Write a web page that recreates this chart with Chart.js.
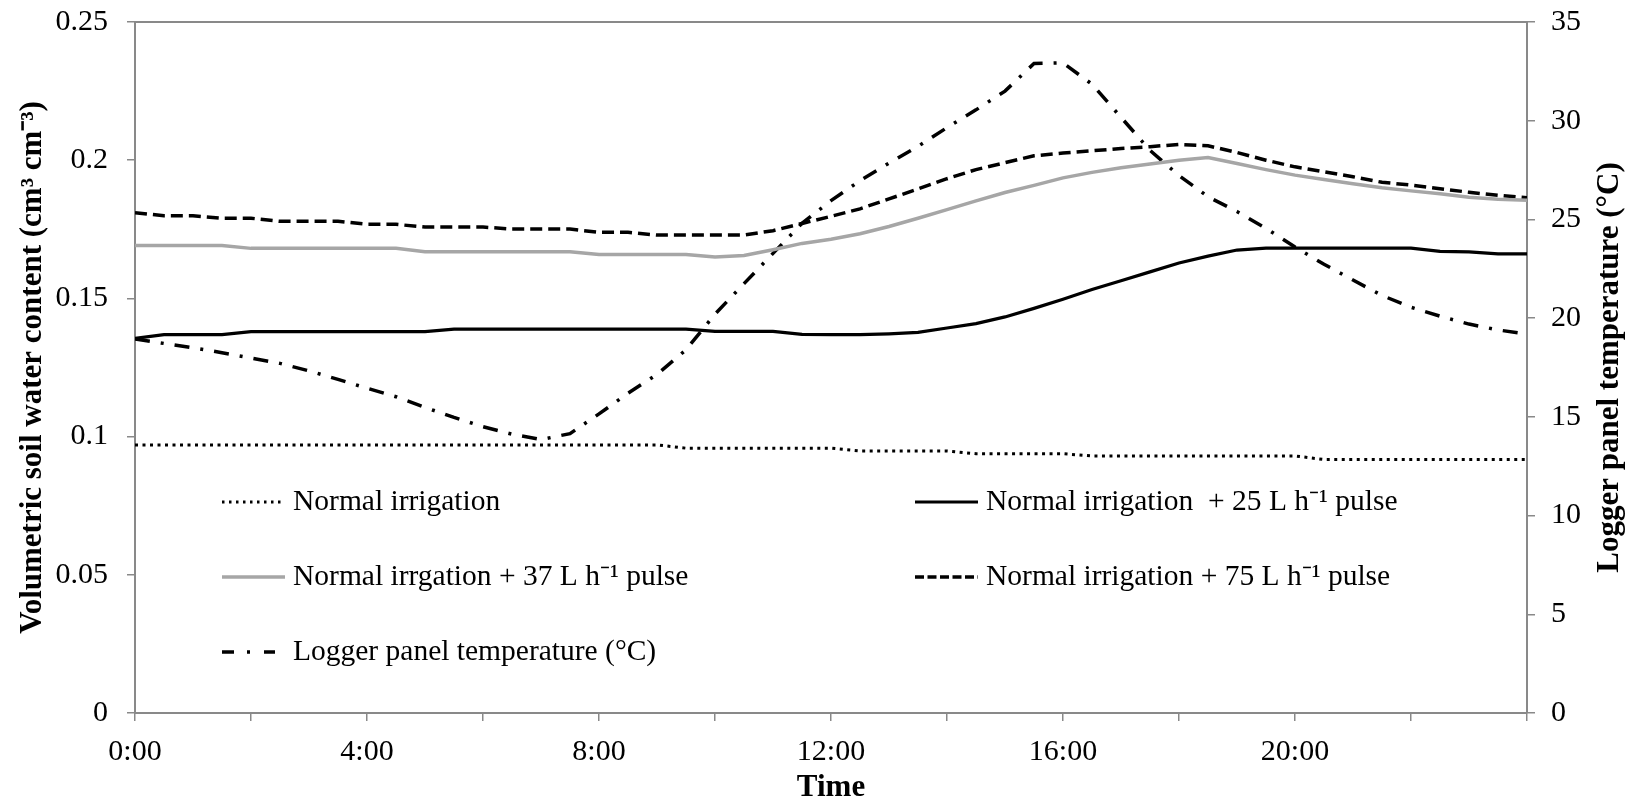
<!DOCTYPE html>
<html>
<head>
<meta charset="utf-8">
<title>Soil water content and logger panel temperature</title>
<script src="https://cdn.jsdelivr.net/npm/chart.js"></script>
<style>
  html, body { margin: 0; padding: 0; background: #ffffff; }
  canvas { display: block; }
</style>
</head>
<body>
<canvas id="chart" width="1635" height="806"></canvas>
<script>
// Sampling times (hours after midnight), half-hourly over one day
const hours = [
  0, 0.5, 1, 1.5, 2, 2.5, 3, 3.5, 4, 4.5, 5, 5.5, 6, 6.5, 7, 7.5, 8, 8.5, 9, 9.5,
  10, 10.5, 11, 11.5, 12, 12.5, 13, 13.5, 14, 14.5, 15, 15.5, 16, 16.5, 17, 17.5,
  18, 18.5, 19, 19.5, 20, 20.5, 21, 21.5, 22, 22.5, 23, 23.5, 24
];

// Volumetric soil water content (cm3 cm-3)
const normalIrrigation = [
  0.0970, 0.0970, 0.0970, 0.0970, 0.0970, 0.0970, 0.0970, 0.0970, 0.0970, 0.0970,
  0.0970, 0.0970, 0.0970, 0.0970, 0.0970, 0.0970, 0.0970, 0.0970, 0.0970, 0.0958,
  0.0958, 0.0958, 0.0958, 0.0958, 0.0958, 0.0948, 0.0948, 0.0948, 0.0948, 0.0938,
  0.0938, 0.0938, 0.0938, 0.0930, 0.0930, 0.0930, 0.0930, 0.0930, 0.0930, 0.0930,
  0.0930, 0.0917, 0.0917, 0.0917, 0.0917, 0.0917, 0.0917, 0.0917, 0.0917
];
const pulse25 = [
  0.1355, 0.1369, 0.1369, 0.1369, 0.1380, 0.1380, 0.1380, 0.1380, 0.1380, 0.1380,
  0.1380, 0.1389, 0.1389, 0.1389, 0.1389, 0.1389, 0.1389, 0.1389, 0.1389, 0.1389,
  0.1381, 0.1381, 0.1381, 0.1370, 0.1369, 0.1369, 0.1372, 0.1377, 0.1393, 0.1409,
  0.1433, 0.1464, 0.1497, 0.1532, 0.1564, 0.1596, 0.1628, 0.1653, 0.1675, 0.1682,
  0.1682, 0.1682, 0.1682, 0.1682, 0.1682, 0.1670, 0.1668, 0.1661, 0.1661
];
const pulse37 = [
  0.1691, 0.1691, 0.1691, 0.1691, 0.1681, 0.1681, 0.1681, 0.1681, 0.1681, 0.1681,
  0.1669, 0.1669, 0.1669, 0.1669, 0.1669, 0.1669, 0.1659, 0.1659, 0.1659, 0.1659,
  0.1650, 0.1655, 0.1676, 0.1699, 0.1714, 0.1734, 0.1760, 0.1790, 0.1821, 0.1853,
  0.1883, 0.1909, 0.1936, 0.1956, 0.1973, 0.1986, 0.2000, 0.2010, 0.1988, 0.1966,
  0.1946, 0.1930, 0.1915, 0.1900, 0.1889, 0.1879, 0.1866, 0.1859, 0.1855
];
const pulse75 = [
  0.1810, 0.1799, 0.1799, 0.1790, 0.1790, 0.1779, 0.1779, 0.1779, 0.1768, 0.1768,
  0.1758, 0.1758, 0.1758, 0.1751, 0.1751, 0.1751, 0.1739, 0.1739, 0.1729, 0.1729,
  0.1729, 0.1729, 0.1745, 0.1771, 0.1797, 0.1824, 0.1860, 0.1896, 0.1933, 0.1966,
  0.1991, 0.2016, 0.2026, 0.2034, 0.2042, 0.2049, 0.2057, 0.2052, 0.2028, 0.2000,
  0.1976, 0.1958, 0.1940, 0.1920, 0.1910, 0.1897, 0.1884, 0.1873, 0.1864
];

// Logger panel temperature (°C)
const panelTemperature = [
  18.94, 18.72, 18.50, 18.25, 17.98, 17.71, 17.33, 16.90, 16.45, 16.02,
  15.48, 14.97, 14.50, 14.12, 13.85, 14.15, 15.15, 16.20, 17.15, 18.40,
  20.20, 21.75, 23.28, 24.80, 25.95, 26.96, 27.85, 28.70, 29.65, 30.55,
  31.50, 32.90, 32.93, 31.85, 30.17, 28.50, 27.22, 26.15, 25.40, 24.55,
  23.60, 22.73, 21.93, 21.15, 20.55, 20.10, 19.70, 19.40, 19.20
];

// Axis tick labels (x ticks every 2 h, labels every 4 h)
const timeTickLabels = ['0:00', '', '4:00', '', '8:00', '', '12:00', '', '16:00', '', '20:00', '', ''];
const soilTickLabels = ['0', '0.05', '0.1', '0.15', '0.2', '0.25'];
const tempTickLabels = ['0', '5', '10', '15', '20', '25', '30', '35'];

const seriesLabels = [
  'Normal irrigation',
  'Normal irrigation  + 25 L h\u207B\u00B9 pulse',
  'Normal irrgation + 37 L h\u207B\u00B9 pulse',
  'Normal irrigation + 75 L h\u207B\u00B9 pulse',
  'Logger panel temperature (\u00B0C)'
];
const soilAxisTitle = 'Volumetric soil water content (cm\u00B3 cm\u207B\u00B3)';
const tempAxisTitle = 'Logger panel temperature (\u00B0C)';
const timeAxisTitle = 'Time';

const SERIF = "'Liberation Serif', 'Times New Roman', serif";
const AXIS_GREY = '#898989';

const toPoints = (values) => values.map((v, i) => ({ x: hours[i], y: v }));

// Fixed axis bands so the plot box sits where it should
const fixWidth = (w) => (s) => { s.width = w; s.paddingTop = 0; s.paddingBottom = 0; };
const fixHeight = (h) => (s) => { s.height = h; s.paddingLeft = 0; s.paddingRight = 0; };

// Box around the plot: the top edge is not an axis, so draw it here
const topEdge = {
  id: 'topEdge',
  beforeDatasetsDraw(chart) {
    const { ctx, chartArea } = chart;
    ctx.save();
    ctx.strokeStyle = AXIS_GREY;
    ctx.lineWidth = 2;
    ctx.beginPath();
    ctx.moveTo(chartArea.left - 1, chartArea.top);
    ctx.lineTo(chartArea.right + 1, chartArea.top);
    ctx.stroke();
    ctx.restore();
  }
};

// Two-column legend placed inside the plot area
const insetLegend = {
  id: 'insetLegend',
  afterDatasetsDraw(chart, args, opts) {
    const ctx = chart.ctx;
    ctx.save();
    ctx.font = opts.font;
    ctx.textBaseline = 'middle';
    ctx.textAlign = 'left';
    chart.data.datasets.forEach((ds, i) => {
      const x0 = opts.columns[i % 2];
      const y = opts.rows[Math.floor(i / 2)];
      const len = ds.legendSampleLength || opts.sampleLength;
      ctx.beginPath();
      ctx.setLineDash(ds.legendDash || ds.borderDash || []);
      ctx.lineCap = 'butt';
      ctx.lineWidth = ds.borderWidth;
      ctx.strokeStyle = ds.borderColor;
      ctx.moveTo(x0, y);
      ctx.lineTo(x0 + len, y);
      ctx.stroke();
      ctx.setLineDash([]);
      ctx.fillStyle = '#000000';
      ctx.fillText(ds.label, x0 + opts.sampleLength + opts.textGap, y);
    });
    ctx.restore();
  }
};

// Right-hand axis title, read bottom to top like the left one
const rightAxisTitle = {
  id: 'rightAxisTitle',
  afterDraw(chart, args, opts) {
    const { ctx, chartArea } = chart;
    ctx.save();
    ctx.font = opts.font;
    ctx.fillStyle = '#000000';
    ctx.textAlign = 'center';
    ctx.textBaseline = 'middle';
    ctx.translate(opts.x, (chartArea.top + chartArea.bottom) / 2);
    ctx.rotate(-Math.PI / 2);
    ctx.fillText(opts.text, 0, 0);
    ctx.restore();
  }
};

new Chart(document.getElementById('chart'), {
  type: 'line',
  data: {
    datasets: [
      {
        label: seriesLabels[0],
        data: toPoints(normalIrrigation),
        yAxisID: 'y',
        borderColor: '#000000',
        borderWidth: 3,
        borderDash: [3, 4.5],
        legendDash: [2.5, 4.5]
      },
      {
        label: seriesLabels[1],
        data: toPoints(pulse25),
        yAxisID: 'y',
        borderColor: '#000000',
        borderWidth: 3.2
      },
      {
        label: seriesLabels[2],
        data: toPoints(pulse37),
        yAxisID: 'y',
        borderColor: '#a6a6a6',
        borderWidth: 3.5
      },
      {
        label: seriesLabels[3],
        data: toPoints(pulse75),
        yAxisID: 'y',
        borderColor: '#000000',
        borderWidth: 3.5,
        borderDash: [12, 6],
        legendDash: [9, 3.5]
      },
      {
        label: seriesLabels[4],
        data: toPoints(panelTemperature),
        yAxisID: 'y1',
        borderColor: '#000000',
        borderWidth: 3.5,
        borderDash: [15, 11, 3, 11],
        legendDash: [12, 13, 3, 14],
        legendSampleLength: 53
      }
    ]
  },
  options: {
    responsive: false,
    animation: false,
    events: [],
    layout: { padding: { top: 22, left: 0, right: 0, bottom: 0 } },
    elements: {
      point: { radius: 0 },
      line: { tension: 0, borderCapStyle: 'butt', fill: false }
    },
    plugins: {
      legend: { display: false },
      tooltip: { enabled: false },
      insetLegend: {
        font: "29.5px " + SERIF,
        columns: [222, 915],
        rows: [502, 577, 652],
        sampleLength: 63,
        textGap: 8
      },
      rightAxisTitle: {
        text: tempAxisTitle,
        font: "bold 31px " + SERIF,
        x: 1609.5
      }
    },
    scales: {
      x: {
        type: 'linear',
        min: 0,
        max: 24,
        afterFit: fixHeight(93),
        ticks: {
          stepSize: 2,
          autoSkip: false,
          maxRotation: 0,
          padding: 13,
          color: '#000000',
          font: { family: SERIF, size: 30 },
          callback: (v) => timeTickLabels[Math.round(v / 2)]
        },
        grid: {
          drawOnChartArea: false,
          drawTicks: true,
          tickLength: 8,
          color: AXIS_GREY,
          lineWidth: 1.5
        },
        border: { display: true, color: AXIS_GREY, width: 2 },
        title: {
          display: true,
          text: timeAxisTitle,
          color: '#000000',
          font: { family: SERIF, size: 31, weight: 'bold' },
          padding: { top: 0, bottom: -1 }
        }
      },
      y: {
        type: 'linear',
        position: 'left',
        min: 0,
        max: 0.25,
        afterFit: fixWidth(135),
        ticks: {
          stepSize: 0.05,
          padding: 19,
          color: '#000000',
          font: { family: SERIF, size: 30 },
          callback: (v, i) => soilTickLabels[i]
        },
        grid: {
          drawOnChartArea: false,
          drawTicks: true,
          tickLength: 8,
          color: AXIS_GREY,
          lineWidth: 1.5
        },
        border: { display: true, color: AXIS_GREY, width: 2 },
        title: {
          display: true,
          text: soilAxisTitle,
          color: '#000000',
          font: { family: SERIF, size: 31, weight: 'bold' },
          padding: { top: 14, bottom: 0 }
        }
      },
      y1: {
        type: 'linear',
        position: 'right',
        min: 0,
        max: 35,
        afterFit: fixWidth(108),
        ticks: {
          stepSize: 5,
          padding: 16,
          color: '#000000',
          font: { family: SERIF, size: 30 },
          callback: (v, i) => tempTickLabels[i]
        },
        grid: {
          drawOnChartArea: false,
          drawTicks: true,
          tickLength: 8,
          color: AXIS_GREY,
          lineWidth: 1.5
        },
        border: { display: true, color: AXIS_GREY, width: 2 },
        title: { display: false }
      }
    }
  },
  plugins: [topEdge, insetLegend, rightAxisTitle]
});
</script>
</body>
</html>
